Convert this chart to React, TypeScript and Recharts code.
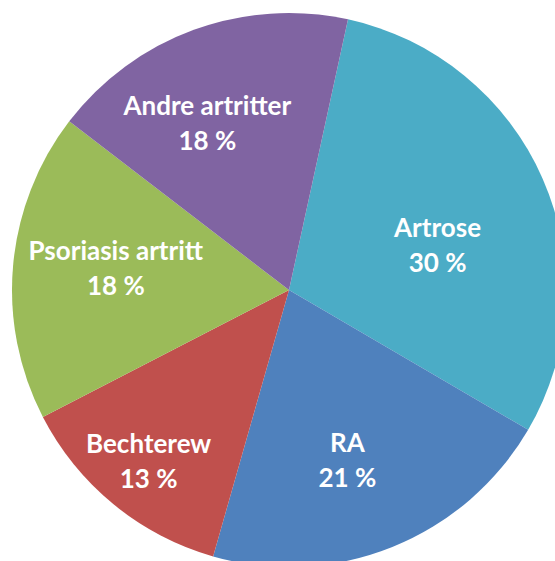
import { PieChart, Pie, Cell } from "recharts";

const LABELS = ["Artrose", "RA", "Bechterew", "Psoriasis artritt", "Andre artritter"];
const PERCENTS = [30, 21, 13, 18, 18];
const COLORS = ["#4BACC6", "#4F81BD", "#C0504D", "#9BBB59", "#8064A2"];

// label placement (Excel "best fit" look): radius factor and angle nudge per slice
const LABEL_RADIUS = [0.56, 0.65, 0.8, 0.63, 0.67];
const LABEL_NUDGE = [-7, -3, 0, -2, 6];

const data = LABELS.map((name, i) => ({ name, value: PERCENTS[i] }));

const RAD = Math.PI / 180;

const renderLabel = (props: any) => {
  const { cx, cy, midAngle, outerRadius, index } = props;
  const r = outerRadius * LABEL_RADIUS[index];
  const a = (midAngle + LABEL_NUDGE[index]) * RAD;
  const x = cx + r * Math.cos(-a);
  const y = cy + r * Math.sin(-a);
  return (
    <text
      x={x}
      y={y}
      fill="#ffffff"
      textAnchor="middle"
      fontFamily="Lato, 'Open Sans', sans-serif"
      fontWeight="bold"
      fontSize={26}
    >
      <tspan x={x} dy={-8}>{data[index].name}</tspan>
      <tspan x={x} dy={35}>{`${data[index].value} %`}</tspan>
    </text>
  );
};

export default function App() {
  return (
    <div style={{ position: "absolute", left: 0, top: 0, width: 555, height: 561, background: "#fff" }}>
      <PieChart width={555} height={561} margin={{ top: 0, right: 0, bottom: 0, left: 0 }}>
        <Pie
          data={data}
          dataKey="value"
          nameKey="name"
          cx={289}
          cy={290}
          outerRadius={277}
          startAngle={77.7}
          endAngle={-282.3}
          stroke="none"
          label={renderLabel}
          labelLine={false}
          isAnimationActive={false}
        >
          {data.map((d, i) => (
            <Cell key={`cell-${i}`} fill={COLORS[i]} />
          ))}
        </Pie>
      </PieChart>
    </div>
  );
}
